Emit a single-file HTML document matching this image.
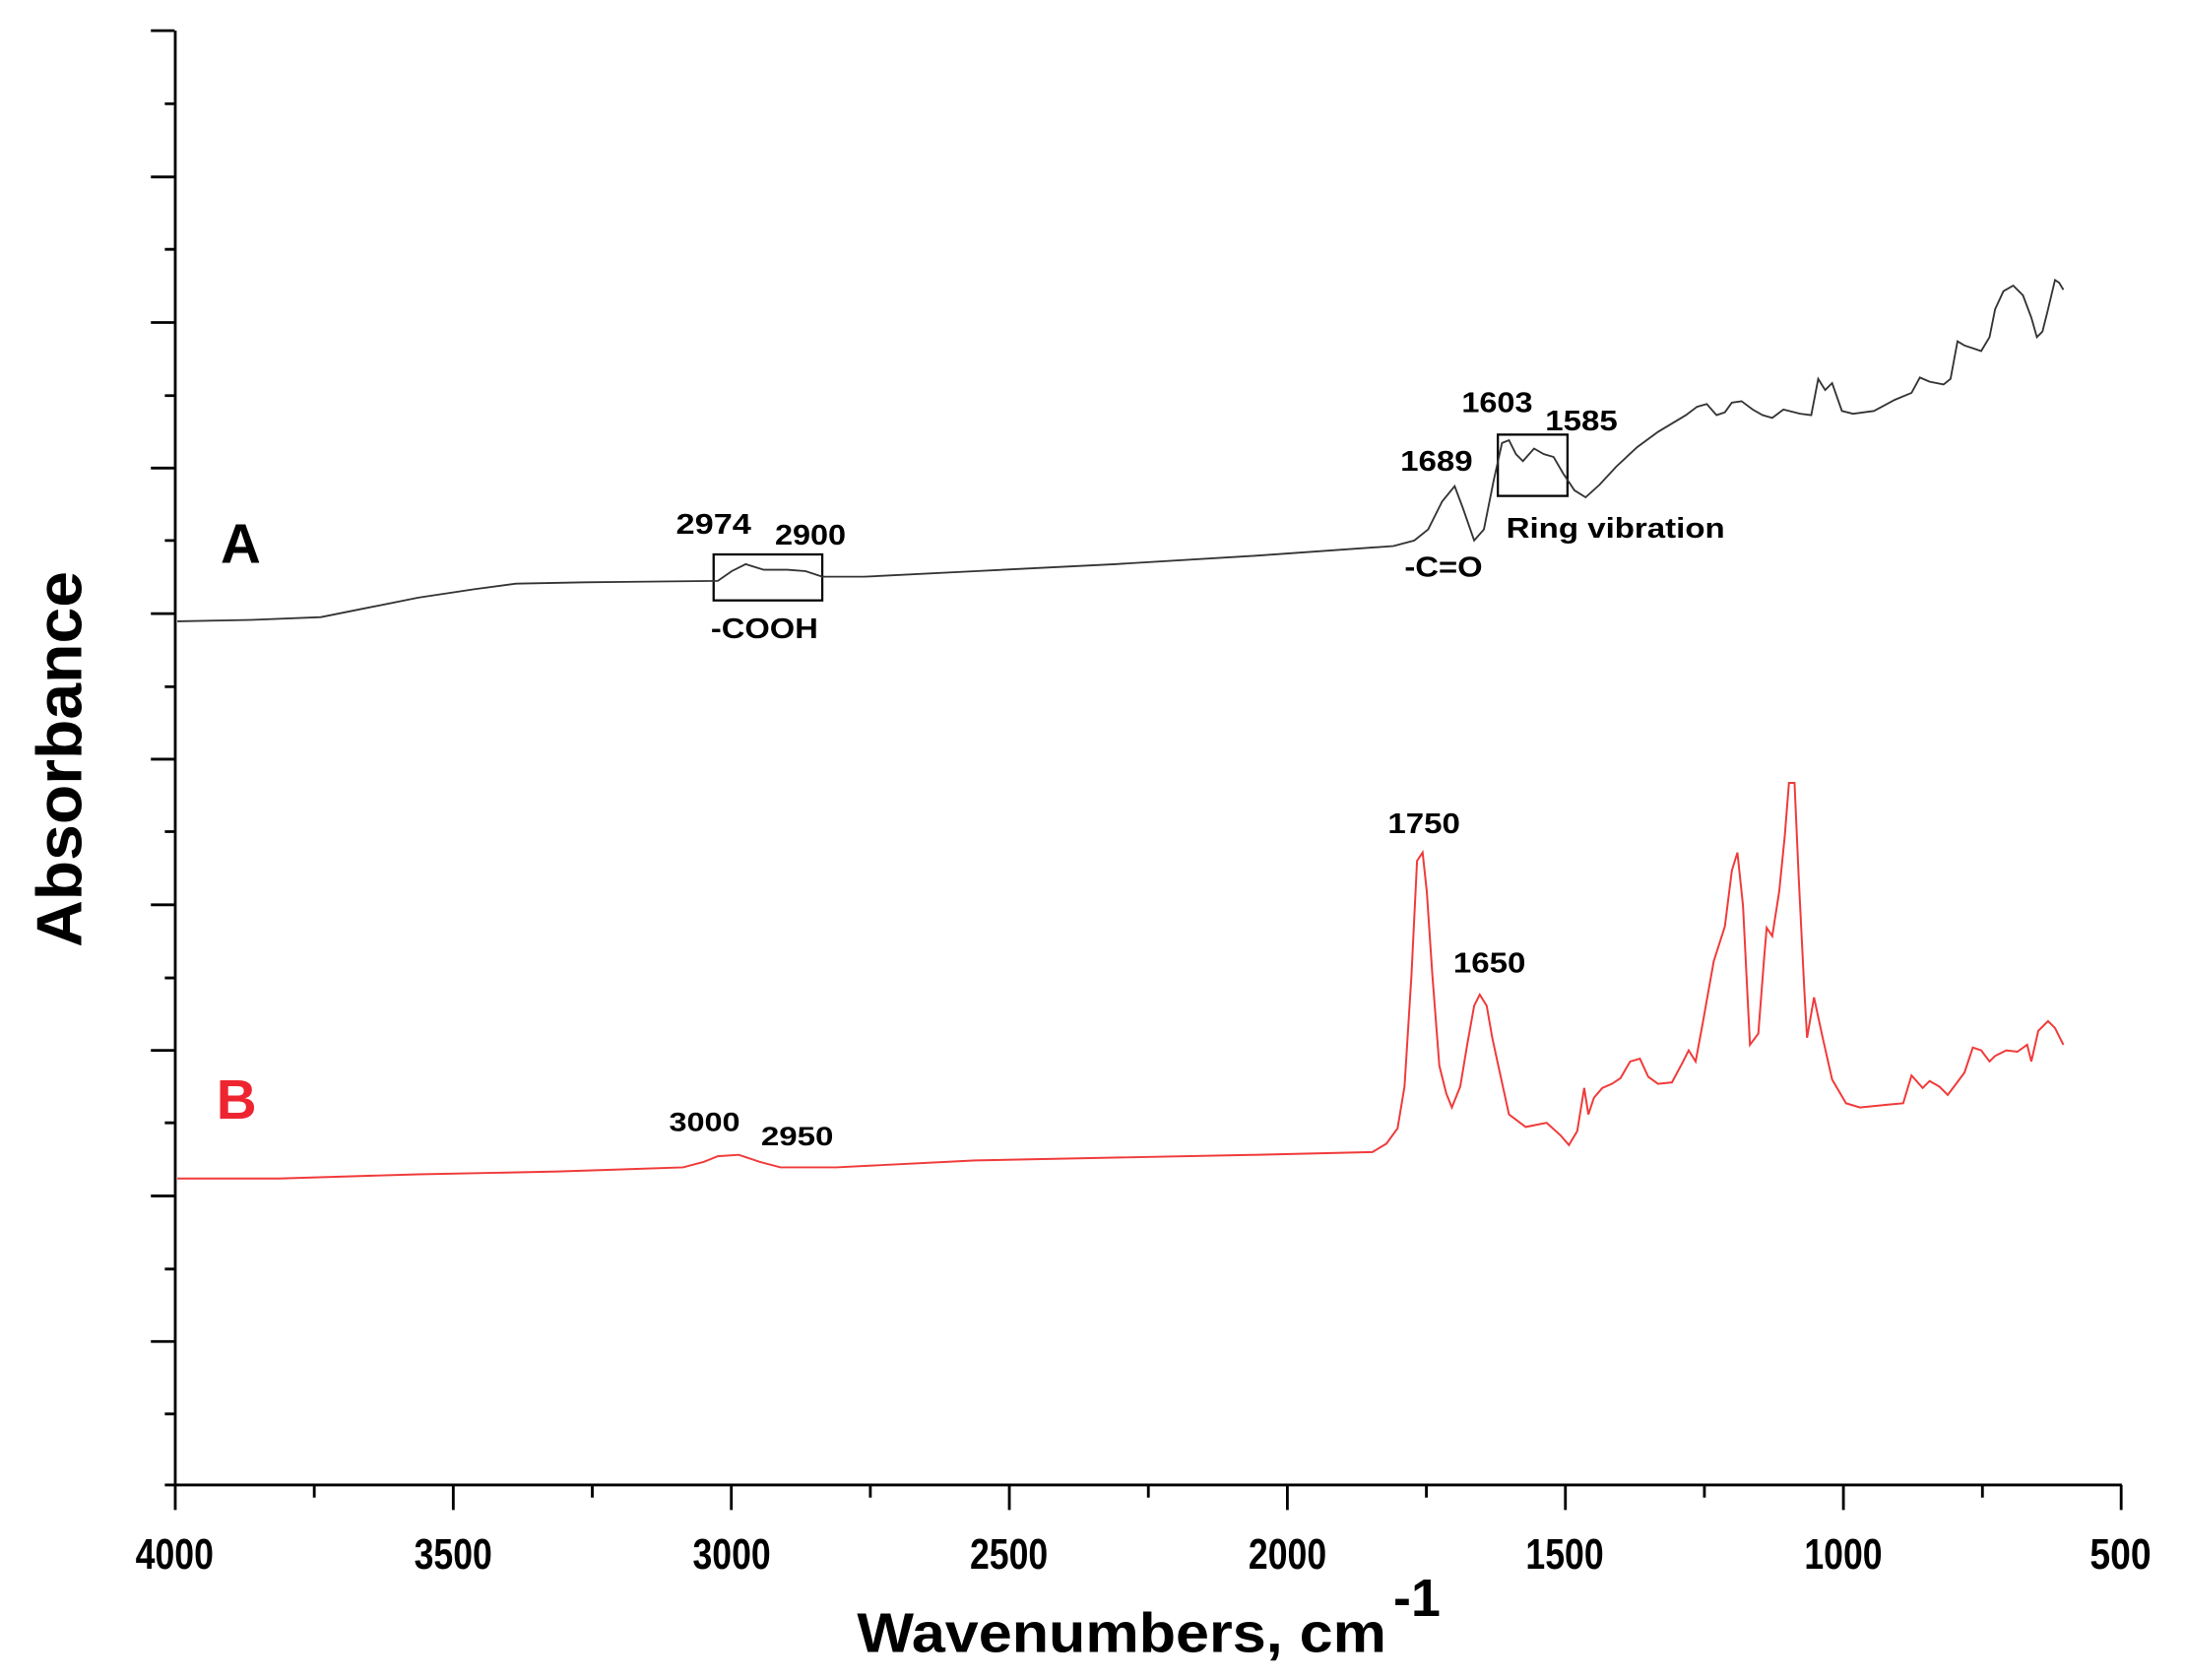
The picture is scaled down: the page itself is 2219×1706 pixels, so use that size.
<!DOCTYPE html>
<html><head><meta charset="utf-8"><style>html,body{margin:0;padding:0;background:#fff}svg{display:block}</style></head>
<body>
<svg width="2219" height="1706" viewBox="0 0 1568 1206" xmlns="http://www.w3.org/2000/svg" font-family="Liberation Sans, Arial, sans-serif">
<rect width="1568" height="1206" fill="#fff"/>
<g stroke="#000" stroke-width="2" fill="none">
<line x1="125.5" y1="22" x2="125.5" y2="1066"/>
<line x1="118" y1="1066" x2="1523" y2="1066"/>
<path d="M108 22H125M118 74.5H125M108 127H125M118 179H125M108 231.5H125M118 284H125M108 336H125M118 388H125M108 440.5H125M118 493H125M108 545H125M118 597H125M108 649.5H125M118 702H125M108 754H125M118 806H125M108 858.5H125M118 911H125M108 963H125M118 1015H125"/>
<path d="M125.5 1066V1084M225.3 1066V1075M325.1 1066V1084M424.9 1066V1075M524.7 1066V1084M624.5 1066V1075M724.3 1066V1084M824.1 1066V1075M923.9 1066V1084M1023.7 1066V1075M1123.5 1066V1084M1223.3 1066V1075M1323.1 1066V1084M1422.9 1066V1075M1522.5 1066V1084"/>
</g>
<g font-size="31" text-anchor="middle" fill="#000" font-weight="bold">
<text x="125" y="1126" textLength="56" lengthAdjust="spacingAndGlyphs">4000</text>
<text x="325" y="1126" textLength="56" lengthAdjust="spacingAndGlyphs">3500</text>
<text x="525" y="1126" textLength="56" lengthAdjust="spacingAndGlyphs">3000</text>
<text x="724" y="1126" textLength="56" lengthAdjust="spacingAndGlyphs">2500</text>
<text x="924" y="1126" textLength="56" lengthAdjust="spacingAndGlyphs">2000</text>
<text x="1123" y="1126" textLength="56" lengthAdjust="spacingAndGlyphs">1500</text>
<text x="1323" y="1126" textLength="56" lengthAdjust="spacingAndGlyphs">1000</text>
<text x="1522" y="1126" textLength="44" lengthAdjust="spacingAndGlyphs">500</text>
</g>
<text x="615" y="1186" font-size="40" font-weight="bold" textLength="380" lengthAdjust="spacingAndGlyphs">Wavenumbers, cm</text>
<text x="1000" y="1160" font-size="38" font-weight="bold">-1</text>
<text transform="translate(58,545) rotate(-90)" font-size="46" font-weight="bold" text-anchor="middle" textLength="270" lengthAdjust="spacingAndGlyphs">Absorbance</text>
<text x="158" y="404" font-size="40" font-weight="bold">A</text>
<text x="155" y="803" font-size="40" font-weight="bold" fill="#ee2530">B</text>
<g fill="none" stroke="#000" stroke-width="1.6">
<rect x="512" y="398" width="78" height="33"/>
<rect x="1075" y="312" width="50" height="44"/>
</g>
<polyline fill="none" stroke="#333" stroke-width="1.3" points="127,446 180,445 230,443 260,437 300,429 340,423 370,419 420,418 515,417 525,410 535,405 548,409 565,409 578,410 590,414 620,414 700,410 800,405 900,399 1000,392 1015,388 1025,380 1035,360 1044,349 1050,365 1058,388 1065,380 1072,345 1078,318 1083,316 1088,326 1093,331 1101,322 1108,326 1115,328 1122,340 1130,352 1138,357 1148,348 1160,335 1175,321 1190,310 1210,298 1218,292 1225,290 1232,298 1238,296 1243,289 1250,288 1258,294 1265,298 1272,300 1280,294 1292,297 1300,298 1305,272 1310,280 1315,275 1322,295 1330,297 1345,295 1360,287 1372,282 1378,271 1385,274 1395,276 1400,272 1405,245 1410,248 1416,250 1422,252 1428,242 1432,222 1438,209 1445,205 1452,212 1458,228 1462,242 1466,238 1470,222 1475,201 1478,203 1481,208"/>
<polyline fill="none" stroke="#f03a3a" stroke-width="1.4" points="127,846 200,846 300,843 400,841 490,838 505,834 515,830 530,829 545,834 560,838 600,838 700,833 800,831 900,829 985,827 995,821 1003,810 1008,780 1013,700 1017,618 1021,612 1024,640 1028,700 1033,765 1038,785 1042,795 1048,780 1053,750 1058,722 1062,714 1067,722 1071,745 1076,768 1083,800 1095,809 1110,806 1120,815 1126,822 1132,812 1137,781 1140,800 1144,788 1150,781 1157,778 1163,774 1170,762 1177,760 1183,773 1190,778 1200,777 1208,762 1212,754 1217,762 1222,735 1230,690 1238,665 1243,625 1247,612 1251,650 1256,750 1262,742 1266,690 1268,666 1272,672 1277,640 1281,600 1284,562 1288,562 1291,630 1295,710 1297,745 1302,716 1308,744 1315,775 1325,792 1335,795 1355,793 1366,792 1372,772 1380,781 1385,776 1392,780 1398,786 1410,770 1416,752 1422,754 1428,762 1432,758 1440,754 1448,755 1455,750 1458,762 1463,740 1470,733 1475,738 1481,750"/>
<g font-size="20" font-weight="bold" fill="#000" lengthAdjust="spacingAndGlyphs">
<text x="485" y="383" textLength="54" lengthAdjust="spacingAndGlyphs">2974</text>
<text x="556" y="391" textLength="51" lengthAdjust="spacingAndGlyphs">2900</text>
<text x="510" y="458" textLength="77" lengthAdjust="spacingAndGlyphs">-COOH</text>
<text x="1005" y="338" textLength="52" lengthAdjust="spacingAndGlyphs">1689</text>
<text x="1008" y="414" textLength="56" lengthAdjust="spacingAndGlyphs">-C=O</text>
<text x="1049" y="296" textLength="51" lengthAdjust="spacingAndGlyphs">1603</text>
<text x="1109" y="309" textLength="52" lengthAdjust="spacingAndGlyphs">1585</text>
<text x="1081" y="386" textLength="157" lengthAdjust="spacingAndGlyphs">Ring vibration</text>
<text x="996" y="598" textLength="52" lengthAdjust="spacingAndGlyphs">1750</text>
<text x="1043" y="698" textLength="52" lengthAdjust="spacingAndGlyphs">1650</text>
<text x="480" y="812" font-size="19" textLength="51" lengthAdjust="spacingAndGlyphs">3000</text>
<text x="546" y="822" font-size="19" textLength="52" lengthAdjust="spacingAndGlyphs">2950</text>
</g>
</svg>
</body></html>
